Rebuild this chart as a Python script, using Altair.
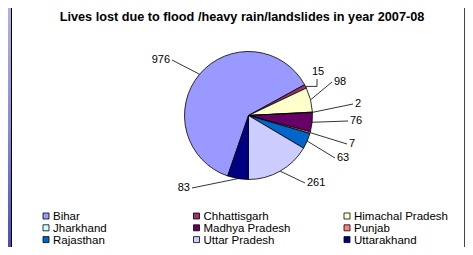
import math
import altair as alt
import pandas as pd

# ---- data ----
states = ["Bihar", "Chhattisgarh", "Himachal Pradesh", "Jharkhand", "Madhya Pradesh",
          "Punjab", "Rajasthan", "Uttar Pradesh", "Uttarakhand"]
lives = [976, 15, 98, 2, 76, 7, 63, 261, 83]
colors = ["#9999FF", "#993366", "#FFFFCC", "#CCFFFF", "#660066",
          "#FF8080", "#0066CC", "#CCCCFF", "#000080"]
TITLE = "Lives lost due to flood /heavy rain/landslides in year 2007-08"

# ---- layout (label leader-line ends, px from pie centre: right / down) ----
label_dx = [-76.5, 68.5, 83.5, 104.5, 99.5, 98.5, 86.5, 56.5, -56.5]
label_dy = [-55.5, -36.5, -33.5, -11.5, 5.5, 28.5, 42.5, 67.5, 72.5]
label_align = ["right", "center", "left", "left", "left", "left", "left", "left", "right"]

W, H = 457, 239
CX, CY = 240.5, 107.5
R = 64
START_DEG = 199
FONT = "Liberation Sans"

# legend grid layout (px in chart)
LEG_COLS = 3
LEG_X0 = 38.0        # symbol centre of first column
LEG_COL_W = 150.5
LEG_BASE0 = 212.0    # text baseline of first row
LEG_ROW_H = 11.8
LEG_TEXT_OFF = 7.0   # from symbol centre to text start
LEG_FONT = 11.5

total = sum(lives)
s = math.radians(START_DEG)

pie_df = pd.DataFrame({"state": states, "lives": lives, "idx": range(len(states))})

pts = []
txt = []
cum = 0
for i, (st, v) in enumerate(zip(states, lives)):
    mid = s + 2 * math.pi * (cum + v / 2) / total
    cum += v
    ex, ey = R * math.sin(mid), R * math.cos(mid)
    lx, ly = label_dx[i], -label_dy[i]
    seq = 0
    pts.append({"label": st, "seq": seq, "x": ex, "y": ey}); seq += 1
    if label_align[i] == "center":
        pts.append({"label": st, "seq": seq, "x": lx, "y": ey}); seq += 1
    pts.append({"label": st, "seq": seq, "x": lx, "y": ly})
    txt.append({"label": st, "text": str(v), "x": lx, "y": ly, "align": label_align[i]})
pts_df = pd.DataFrame(pts)
txt_df = pd.DataFrame(txt)

leg = []
for i, st in enumerate(states):
    c, r = i % LEG_COLS, i // LEG_COLS
    px = LEG_X0 + c * LEG_COL_W
    base = LEG_BASE0 + r * LEG_ROW_H
    leg.append({"state": st, "sx": px - CX, "sy": CY - (base - 4.0),
                "tx": px + LEG_TEXT_OFF - CX, "ty": CY - base})
leg_df = pd.DataFrame(leg)

xs = alt.Scale(domain=[-CX, W - CX], range=[0, W], nice=False, zero=False)
ys = alt.Scale(domain=[-(H - CY), CY], range=[H, 0], nice=False, zero=False)

color_scale = alt.Scale(domain=states, range=colors)

pie = alt.Chart(pie_df).mark_arc(outerRadius=R, stroke="black", strokeWidth=0.8).encode(
    theta=alt.Theta("lives:Q", stack=True,
                    scale=alt.Scale(domain=[0, total], range=[s, s + 2 * math.pi])),
    color=alt.Color("state:N", scale=color_scale, legend=None),
    order=alt.Order("idx:Q"),
    x=alt.value(CX), y=alt.value(CY),
)

leaders = alt.Chart(pts_df).mark_line(color="black", strokeWidth=0.8).encode(
    x=alt.X("x:Q", scale=xs, axis=None),
    y=alt.Y("y:Q", scale=ys, axis=None),
    detail="label:N",
    order="seq:Q",
)

def text_layer(align, dx, dy):
    return alt.Chart(txt_df).transform_filter(alt.datum.align == align).mark_text(
        align=align, baseline="middle", dx=dx, dy=dy, font=FONT, fontSize=11, color="black"
    ).encode(
        x=alt.X("x:Q", scale=xs, axis=None),
        y=alt.Y("y:Q", scale=ys, axis=None),
        text="text:N",
    )

lab_l = text_layer("left", 2, 0)
lab_r = text_layer("right", -2, 0)
lab_c = text_layer("center", 1, -7)

leg_sym = alt.Chart(leg_df).mark_square(size=36, opacity=1, stroke="black", strokeWidth=0.8).encode(
    x=alt.X("sx:Q", scale=xs, axis=None),
    y=alt.Y("sy:Q", scale=ys, axis=None),
    fill=alt.Fill("state:N", scale=color_scale, legend=None),
)
leg_txt = alt.Chart(leg_df).mark_text(
    align="left", baseline="alphabetic", font=FONT, fontSize=LEG_FONT, color="black"
).encode(
    x=alt.X("tx:Q", scale=xs, axis=None),
    y=alt.Y("ty:Q", scale=ys, axis=None),
    text="state:N",
)

title = alt.Chart(pd.DataFrame({"t": [TITLE]})).mark_text(
    font=FONT, fontSize=12.7, fontWeight="bold", color="black", align="center", baseline="middle"
).encode(x=alt.value(234), y=alt.value(9), text="t:N")

strip = alt.Chart(pd.DataFrame({"a": [0]})).mark_rect(
    fill=alt.Gradient(gradient="linear", x1=0, x2=0, y1=0, y2=1,
                      stops=[alt.GradientStop(color="#B0B0E6", offset=0),
                             alt.GradientStop(color="#8A8AD6", offset=0.5),
                             alt.GradientStop(color="#4A4ABE", offset=1)])
).encode(x=alt.value(0), x2=alt.value(3), y=alt.value(0), y2=alt.value(H))

left_border = alt.Chart(pd.DataFrame({"a": [0]})).mark_rule(color="black", strokeWidth=1).encode(
    x=alt.value(3.5), y=alt.value(0), y2=alt.value(H))
right_border = alt.Chart(pd.DataFrame({"a": [0]})).mark_rule(color="#444444", strokeWidth=1).encode(
    x=alt.value(W - 0.5), y=alt.value(0), y2=alt.value(H))

chart = alt.layer(strip, left_border, right_border, leaders, pie, lab_l, lab_r, lab_c,
                  leg_sym, leg_txt, title).properties(
    width=W, height=H, padding=0, autosize=alt.AutoSizeParams(type="none"), background="white"
).configure_view(stroke=None)

chart.save("out.html", embed_options={"renderer": "svg", "actions": False})
